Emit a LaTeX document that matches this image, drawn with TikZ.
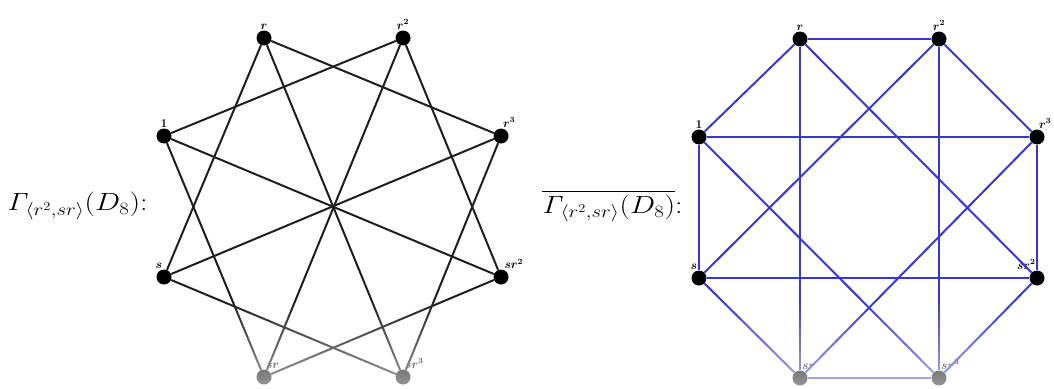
\documentclass[tikz,border=0pt]{standalone}
\usepackage{amsmath}
\usepackage{bm}
\usetikzlibrary{fadings}
\definecolor{edgeblack}{RGB}{30,30,30}
\definecolor{edgeblue}{RGB}{55,55,215}
\tikzfading[name=fadebottom, top color=transparent!100, bottom color=transparent!40]
\tikzset{
  v/.style={circle, fill=black, inner sep=0pt, minimum size=15pt},
  lab/.style={font=\fontsize{12}{13}\selectfont, inner sep=0.5pt, label distance=0.5pt},
  ek/.style={line width=2pt, draw=edgeblack},
  eb/.style={line width=2pt, draw=edgeblue},
  title/.style={font=\fontsize{25}{28}\selectfont, inner sep=0pt, xscale=1.2}
}
\begin{document}
\begin{tikzpicture}[x=1pt, y=-1pt]
\useasboundingbox (0,0) rectangle (1054,388);
% ---------- left graph ----------
\node[title, anchor=west] (tl) at (7,206) {$\mathit{\Gamma}_{\langle r^2,sr\rangle}(D_8)$:};
\node[v, label={[lab]90:$\mathbf{1}$}] (a1) at (164,136) {};
\node[v, label={[lab]90:$\bm{r}$}] (ar) at (264,38) {};
\node[v, label={[lab]90:$\bm{r^2}$}] (ar2) at (403,38) {};
\node[v, label={[lab]80:$\bm{r^3}$}] (ar3) at (501,136) {};
\node[v, label={[lab]70:$\bm{sr^2}$}] (asr2) at (501,277) {};
\node[v, label={[lab]80:$\bm{sr^3}$}] (asr3) at (403,377) {};
\node[v, label={[lab]80:$\bm{sr}$}] (asr) at (264,377) {};
\node[v, label={[lab]100:$\bm{s}$}] (as) at (164,277) {};
\foreach \p/\q in {a1/ar2, a1/asr2, a1/asr, ar/as, ar/asr3, ar/ar3, ar2/asr, ar2/asr2, ar3/as, ar3/asr3, as/asr3, asr2/asr}
  \draw[ek] (\p) -- (\q);
% ---------- right graph ----------
\node[title, anchor=west] (tr) at (542,206) {$\overline{\mathit{\Gamma}_{\langle r^2,sr\rangle}(D_8)}$:};
\node[v, label={[lab]90:$\mathbf{1}$}] (b1) at (699,137) {};
\node[v, label={[lab]90:$\bm{r}$}] (br) at (800,39) {};
\node[v, label={[lab]90:$\bm{r^2}$}] (br2) at (939,39) {};
\node[v, label={[lab]80:$\bm{r^3}$}] (br3) at (1037,137) {};
\node[v, label={[lab]95:$\bm{sr^2}$}] (bsr2) at (1037,278) {};
\node[v, label={[lab]80:$\bm{sr^3}$}] (bsr3) at (939,378) {};
\node[v, label={[lab]80:$\bm{sr}$}] (bsr) at (800,378) {};
\node[v, label={[lab]100:$\bm{s}$}] (bs) at (699,278) {};
\foreach \p/\q in {br/br2, b1/br, br2/br3, b1/br3, b1/bs, br3/bsr2, bs/bsr2, bs/bsr, bsr2/bsr3, bsr/bsr3, br/bsr, br2/bsr3, br/bsr2, br2/bs, b1/bsr3, br3/bsr}
  \draw[eb] (\p) -- (\q);
% ---------- faded lower part ----------
\fill[white, path fading=fadebottom] (150,300) rectangle (530,388);
\fill[white, path fading=fadebottom] (680,300) rectangle (1054,388);
\end{tikzpicture}
\end{document}
